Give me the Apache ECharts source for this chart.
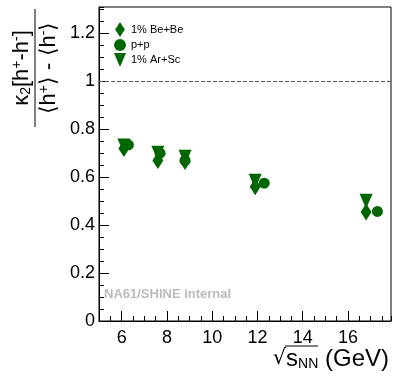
<!DOCTYPE html>
<html>
<head>
<meta charset="utf-8">
<script src="https://cdn.jsdelivr.net/npm/echarts@6/dist/echarts.min.js"></script>
<style>
html,body{margin:0;padding:0;background:#fff;}
#chart{width:393px;height:377px;}
</style>
</head>
<body>
<div id="chart"></div>
<script>
// ---- data ----
var seriesNames = ['1% Be+Be', 'p+p', '1% Ar+Sc'];
var energyIon = [6.1, 7.6, 8.8, 11.9, 16.8];
var energyPP = [6.3, 7.7, 8.8, 12.3, 17.3];
var valBeBe = [0.72, 0.67, 0.665, 0.56, 0.455];
var valPP = [0.735, 0.70, 0.67, 0.575, 0.457];
var valArSc = [0.73, 0.70, 0.683, 0.583, 0.50];
var referenceLevel = 1;
var xRange = [5, 17.9];
var yRange = [0, 1.31];

function pairs(xs, ys) { return xs.map(function (x, i) { return [x, ys[i]]; }); }

var GREEN = '#006600';
var FONT = 'Liberation Sans, Arial, sans-serif';
var triDown = 'path://M0,0 L12,0 L6,14 Z';
var diamond = 'path://M5.5,0 L11,8.5 L5.5,17 L0,8.5 Z';
var circlePath = 'path://M0,5.5 A5.5,5.5 0 1 1 11,5.5 A5.5,5.5 0 1 1 0,5.5 Z';

var chart = echarts.init(document.getElementById('chart'), null, {renderer: 'canvas'});
var gridL = 99, gridT = 7, gridR = 2, gridB = 56;
var plotW = 393 - gridL - gridR, plotH = 377 - gridT - gridB;

chart.setOption({
  animation: false,
  backgroundColor: '#fff',
  grid: {left: gridL, top: gridT, right: gridR, bottom: gridB, show: true, borderColor: '#000', borderWidth: 1, backgroundColor: 'transparent'},
  legend: {
    orient: 'vertical', left: 109, top: 17, itemWidth: 12, itemHeight: 15, itemGap: 2,
    textStyle: {fontFamily: FONT, fontSize: 11, color: '#000'},
    data: [
      {name: seriesNames[0], icon: diamond},
      {name: seriesNames[1], icon: circlePath},
      {name: seriesNames[2], icon: triDown}
    ]
  },
  xAxis: [
    {type: 'value', position: 'bottom', min: xRange[0], max: xRange[1], minInterval: 2, maxInterval: 2,
     axisLine: {onZero: false, lineStyle: {color: '#000', width: 1}},
     axisTick: {inside: true, length: 10, lineStyle: {color: '#000'}},
     axisLabel: {showMinLabel: false, showMaxLabel: false, fontFamily: FONT, fontSize: 18, color: '#000', margin: 8},
     splitLine: {show: false}},
    {type: 'value', position: 'top', offset: -plotH, min: xRange[0], max: xRange[1], interval: 0.5,
     axisLine: {show: false}, axisTick: {inside: false, length: 5, lineStyle: {color: '#000'}},
     axisLabel: {show: false}, splitLine: {show: false}}
  ],
  yAxis: [
    {type: 'value', position: 'left', min: yRange[0], max: yRange[1], interval: 0.2,
     axisLine: {onZero: false, lineStyle: {color: '#000', width: 1}},
     axisTick: {inside: true, length: 10, lineStyle: {color: '#000'}},
     axisLabel: {showMaxLabel: false, fontFamily: FONT, fontSize: 18, color: '#000', margin: 4},
     splitLine: {show: false}},
    {type: 'value', position: 'right', offset: -plotW, min: yRange[0], max: yRange[1], interval: 0.05,
     axisLine: {show: false}, axisTick: {inside: false, length: 5, lineStyle: {color: '#000'}},
     axisLabel: {show: false}, splitLine: {show: false}}
  ],
  series: [
    {name: seriesNames[0], type: 'scatter', data: pairs(energyIon, valBeBe), symbol: diamond, symbolSize: [11, 17],
     itemStyle: {color: GREEN, opacity: 1}, z: 2,
     markLine: {silent: true, symbol: 'none', label: {show: false},
       lineStyle: {color: '#555', type: [4, 2], width: 1}, data: [{yAxis: referenceLevel}]}},
    {name: seriesNames[1], type: 'scatter', data: pairs(energyPP, valPP), symbol: 'circle', symbolSize: 11,
     itemStyle: {color: GREEN, opacity: 1}, z: 3},
    {name: seriesNames[2], type: 'scatter', data: pairs(energyIon, valArSc), symbol: triDown, symbolSize: [13, 15],
     itemStyle: {color: GREEN, opacity: 1}, z: 4}
  ],
  graphic: [
    {type: 'text', left: 104, top: 288, style: {text: 'NA61/SHINE internal', fontFamily: FONT, fontSize: 13, fontWeight: 'bold', fill: '#bbbbbb'}},
    {type: 'text', x: 389, y: 359, style: {
      text: '{r|√}{s|s}{n|NN}{g| (GeV)}', align: 'right', verticalAlign: 'middle',
      rich: {
        r: {fontFamily: 'DejaVu Sans', fontSize: 21, fill: '#000'},
        s: {fontFamily: FONT, fontSize: 24, fill: '#000'},
        n: {fontFamily: FONT, fontSize: 14, fill: '#000', verticalAlign: 'bottom', padding: [9, 0, 0, 0]},
        g: {fontFamily: FONT, fontSize: 24, fill: '#000'}
      }}},
    {type: 'line', shape: {x1: 285, y1: 346, x2: 318, y2: 346}, style: {stroke: '#000', lineWidth: 1}},
    {type: 'group', x: 35, y: 68, rotation: Math.PI / 2, children: [
      {type: 'line', shape: {x1: -59, y1: 0, x2: 59, y2: 0}, style: {stroke: '#000', lineWidth: 1}},
      {type: 'text', x: 0, y: -2, style: {
        text: 'κ{sub|2}[h{sup|+}-h{sup|-}]', align: 'center', verticalAlign: 'bottom',
        fontFamily: FONT, fontSize: 22, fill: '#000',
        rich: {sub: {fontSize: 14, fontFamily: FONT, padding: [9, 0, 0, 0]}, sup: {fontSize: 14, fontFamily: FONT, padding: [0, 0, 9, 0]}}
      }},
      {type: 'text', x: 0, y: 2, style: {
        text: '⟨h{sup|+}⟩ - ⟨h{sup|-}⟩', align: 'center', verticalAlign: 'top',
        fontFamily: FONT, fontSize: 22, fill: '#000',
        rich: {sup: {fontSize: 14, fontFamily: FONT, padding: [0, 0, 9, 0]}}
      }}
    ]}
  ]
});
</script>
</body>
</html>
